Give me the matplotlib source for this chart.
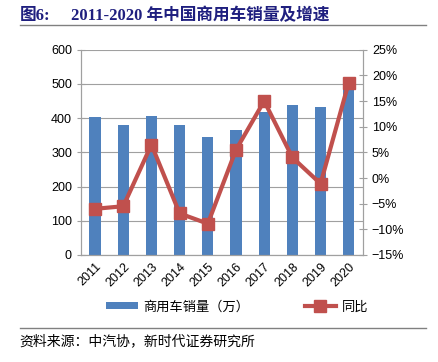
import numpy as np
import matplotlib.pyplot as plt
from matplotlib.ticker import FuncFormatter

years = ["2011", "2012", "2013", "2014", "2015", "2016", "2017", "2018", "2019", "2020"]
sales = [403, 381, 407, 379, 345, 365, 418, 437, 432, 510]
growth = [-6.0, -5.5, 6.5, -6.9, -8.9, 5.5, 15.0, 4.0, -1.1, 18.6]

plt.rcParams["font.family"] = ["Liberation Sans", "Noto Sans CJK SC"]

fig = plt.figure(figsize=(4.39, 3.62), dpi=100)
ax = fig.add_axes([0.1845, 0.2956, 0.642, 0.567])
x = np.arange(len(years))

ax.bar(x, sales, width=0.4, color="#4F81BD", label="商用车销量（万）", zorder=2)
ax.set_ylim(0, 600)
ax.set_yticks(range(0, 601, 100))
ax.set_xlim(-0.5, len(years) - 0.5)
ax.set_xticks(x)
ax.set_xticklabels(years, rotation=45, ha="right", rotation_mode="anchor")
ax.grid(axis="y", color="#A0A0A0", linewidth=0.8, zorder=0)
ax.tick_params(axis="y", direction="inout", length=6, color="#A0A0A0", labelsize=9)
ax.tick_params(axis="x", length=0, labelsize=9, pad=4)

ax2 = ax.twinx()
ax2.plot(x, growth, color="#C0504D", linewidth=3, marker="s", markersize=9,
         label="同比", zorder=3)
ax2.set_ylim(-15, 25)
ax2.set_yticks(range(-15, 26, 5))
ax2.yaxis.set_major_formatter(FuncFormatter(lambda v, p: ("%d%%" % v).replace("-", "\u2212")))
ax2.tick_params(axis="y", direction="inout", length=6, color="#A0A0A0", labelsize=9)

for a in (ax, ax2):
    for s in a.spines.values():
        s.set_color("#A0A0A0")
    a.spines["top"].set_visible(False)

h1, l1 = ax.get_legend_handles_labels()
h2, l2 = ax2.get_legend_handles_labels()
fig.legend(h1 + h2, l1 + l2, loc="center", bbox_to_anchor=(0.54, 0.152), ncol=2,
           frameon=False, fontsize=9.5, columnspacing=4.2, handlelength=2.4,
           handleheight=0.5, handletextpad=0.4)

title_font = ["Liberation Serif", "Noto Sans CJK SC"]
fig.text(0.045, 0.955, "图6:", fontsize=12, fontweight="bold", color="#1F1F7F",
         family=title_font, va="center")
fig.text(0.162, 0.955, "2011-2020 年中国商用车销量及增速", fontsize=12, fontweight="bold",
         color="#1F1F7F", family=title_font, va="center")
fig.add_artist(plt.Line2D([0.045, 0.97], [0.932, 0.932], color="#808080", linewidth=1))
fig.add_artist(plt.Line2D([0.045, 0.97], [0.095, 0.095], color="#808080", linewidth=1))
fig.text(0.045, 0.056, "资料来源：中汽协，新时代证券研究所", fontsize=10, color="#000000",
         va="center")

plt.savefig("out.png", dpi=100)
